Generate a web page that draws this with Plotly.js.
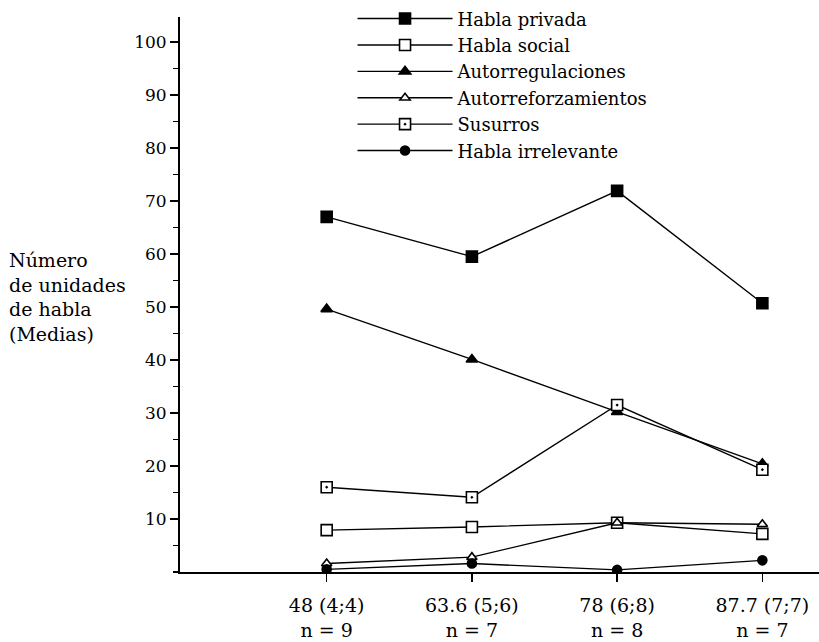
<!DOCTYPE html>
<html>
<head>
<meta charset="utf-8">
<script src="https://cdn.plot.ly/plotly-3.0.1.min.js"></script>
<style>html,body{margin:0;padding:0;background:#fff;}#chart{width:819px;height:642px;}</style>
</head>
<body>
<div id="chart"></div>
<script>
const categories = ["48 (4;4)<br>n = 9", "63.6 (5;6)<br>n = 7", "78 (6;8)<br>n = 8", "87.7 (7;7)<br>n = 7"];
const xPos = [0, 1, 2, 3];
const hablaPrivada = [67.0, 59.5, 71.9, 50.7];
const hablaSocial = [7.9, 8.5, 9.3, 7.2];
const autorregulaciones = [49.6, 40.1, 30.2, 20.4];
const autorreforzamientos = [1.6, 2.8, 9.3, 9.0];
const susurros = [16.0, 14.1, 31.5, 19.3];
const hablaIrrelevante = [0.5, 1.6, 0.4, 2.2];
const yTicks = [10, 20, 30, 40, 50, 60, 70, 80, 90, 100];

const F = "DejaVu Serif, Liberation Serif, serif";
function tr(name, y, symbol, color, size) {
  return {
    x: xPos, y: y, name: name, type: "scatter", mode: "lines+markers",
    line: {color: "#000", width: 1.4},
    marker: {symbol: symbol, color: color, size: size, line: {color: "#000", width: 1.6}}
  };
}
const data = [
  tr("Habla privada", hablaPrivada, "square", "#000", 11),
  tr("Habla social", hablaSocial, "square", "#fff", 11),
  tr("Autorregulaciones", autorregulaciones, "triangle-up", "#000", 10),
  tr("Autorreforzamientos", autorreforzamientos, "triangle-up", "#fff", 9),
  tr("Susurros", susurros, "square-dot", "#fff", 11),
  tr("Habla irrelevante", hablaIrrelevante, "circle", "#000", 9)
];
const layout = {
  width: 819, height: 642,
  margin: {l: 180, r: 0, t: 13, b: 70},
  paper_bgcolor: "#fff", plot_bgcolor: "#fff",
  font: {family: F, size: 17, color: "#000"},
  showlegend: true,
  legend: {x: 0.27, y: 1.03, xanchor: "left", yanchor: "top", bgcolor: "rgba(0,0,0,0)",
           font: {family: F, size: 18, color: "#000"}, tracegroupgap: 0, itemwidth: 95},
  xaxis: {
    range: [-1.01, 3.39], tickvals: xPos, ticktext: categories,
    showline: true, linecolor: "#000", linewidth: 2, ticks: "outside", ticklen: 8,
    tickcolor: "#000", tickwidth: 1.5, showgrid: false, zeroline: false,
    ticklabelstandoff: 7,
    tickfont: {family: F, size: 19, color: "#000"}
  },
  yaxis: {
    range: [0, 104.7], tickvals: yTicks, showline: true, linecolor: "#000", linewidth: 2,
    ticks: "outside", ticklen: 8, tickcolor: "#000", tickwidth: 1.5,
    minor: {dtick: 5, tick0: 0, ticks: "outside", ticklen: 5, tickcolor: "#000", tickwidth: 1.2},
    showgrid: false, zeroline: false, tickfont: {family: F, size: 17, color: "#000"}
  },
  yaxis2: {
    range: [0, 104.7], overlaying: "y", side: "left", anchor: "x", tickvals: yTicks,
    ticks: "inside", ticklen: 8, tickcolor: "#000", tickwidth: 1.5,
    showticklabels: false, showgrid: false, zeroline: false, showline: false
  },
  annotations: [{
    xref: "paper", yref: "paper", x: -0.270, y: 0.495, xanchor: "left", yanchor: "middle",
    align: "left", showarrow: false,
    text: "Número<br>de unidades<br>de habla<br>(Medias)",
    font: {family: F, size: 19, color: "#000"}
  }]
};
Plotly.newPlot("chart", data, layout, {displayModeBar: false, staticPlot: true});
</script>
</body>
</html>
